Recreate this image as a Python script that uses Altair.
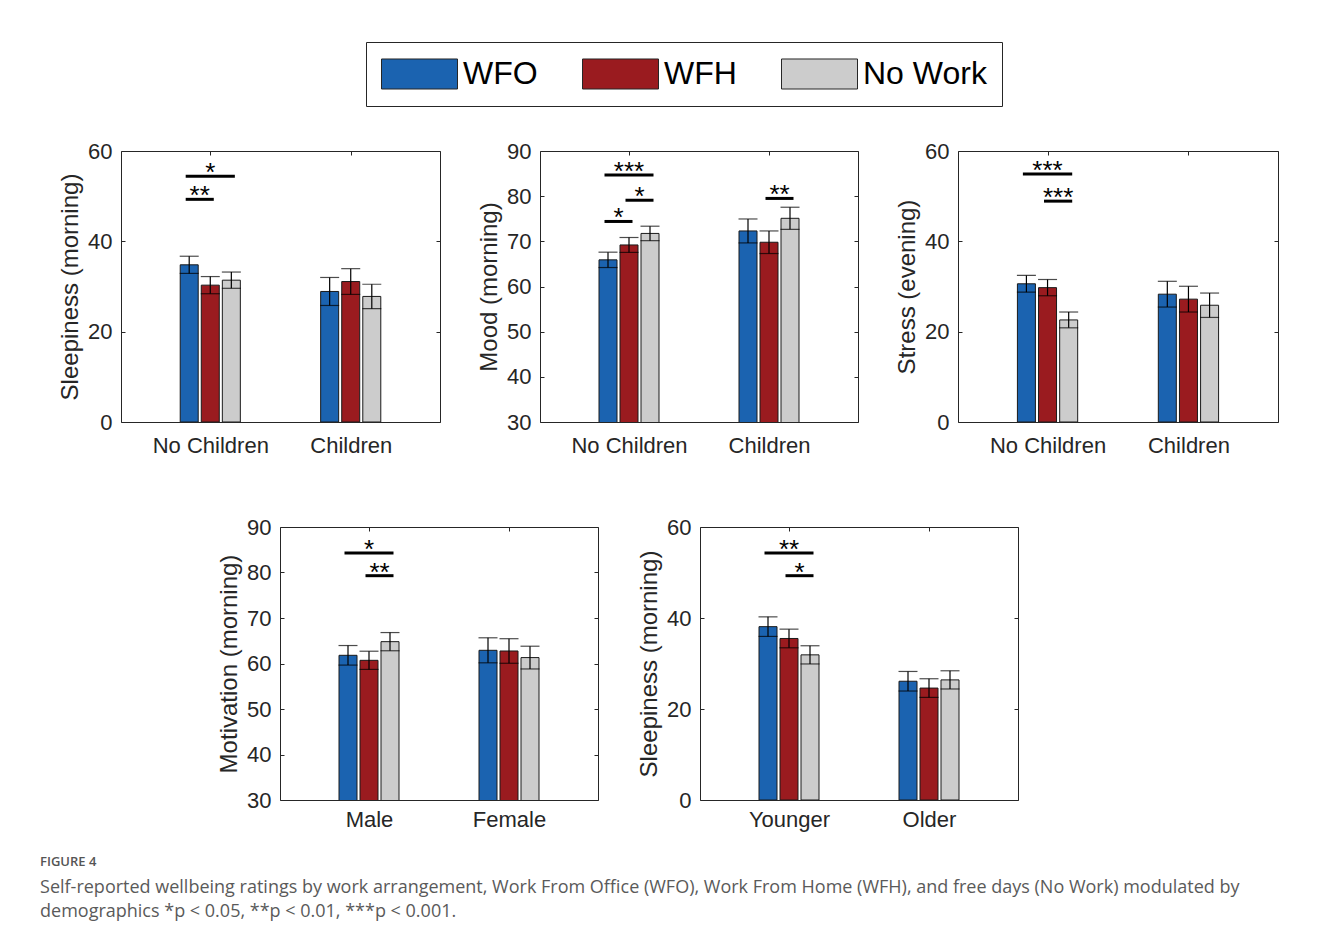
import altair as alt
import pandas as pd

FONT = "Liberation Sans"
CAP_FONT = "Open Sans"
TXT = "#262626"

SERIES = ["WFO", "WFH", "No Work"]
BAR_COLORS = ["#1b63b0", "#9a1b1f", "#cccccc"]

# ---- Panel 1: Sleepiness (morning) by children
p1_categories = ["No Children", "Children"]
p1_ylabel = "Sleepiness (morning)"
p1_yticks = [0, 20, 40, 60]
p1_wfo = [34.8, 28.9]
p1_wfh = [30.3, 31.1]
p1_nowork = [31.4, 27.8]
p1_wfo_err = [1.9, 3.1]
p1_wfh_err = [1.9, 2.85]
p1_nowork_err = [1.8, 2.7]
p1_sig_group = ["No Children", "No Children"]
p1_sig_from = ["WFO", "WFO"]
p1_sig_to = ["No Work", "WFH"]
p1_sig_level = [54.4, 49.3]
p1_sig_stars = ["*", "**"]

# ---- Panel 2: Mood (morning) by children
p2_categories = ["No Children", "Children"]
p2_ylabel = "Mood (morning)"
p2_yticks = [30, 40, 50, 60, 70, 80, 90]
p2_wfo = [65.9, 72.3]
p2_wfh = [69.2, 69.8]
p2_nowork = [71.75, 75.1]
p2_wfo_err = [1.7, 2.65]
p2_wfh_err = [1.65, 2.5]
p2_nowork_err = [1.6, 2.45]
p2_sig_group = ["No Children", "No Children", "No Children", "Children"]
p2_sig_from = ["WFO", "WFH", "WFO", "WFH"]
p2_sig_to = ["No Work", "No Work", "WFH", "No Work"]
p2_sig_level = [84.7, 79.1, 74.4, 79.5]
p2_sig_stars = ["***", "*", "*", "**"]

# ---- Panel 3: Stress (evening) by children
p3_categories = ["No Children", "Children"]
p3_ylabel = "Stress (evening)"
p3_yticks = [0, 20, 40, 60]
p3_wfo = [30.6, 28.3]
p3_wfh = [29.75, 27.2]
p3_nowork = [22.6, 25.85]
p3_wfo_err = [1.85, 2.85]
p3_wfh_err = [1.8, 2.85]
p3_nowork_err = [1.75, 2.7]
p3_sig_group = ["No Children", "No Children"]
p3_sig_from = ["WFO", "WFH"]
p3_sig_to = ["No Work", "No Work"]
p3_sig_level = [54.9, 48.9]
p3_sig_stars = ["***", "***"]

# ---- Panel 4: Motivation (morning) by gender
p4_categories = ["Male", "Female"]
p4_ylabel = "Motivation (morning)"
p4_yticks = [30, 40, 50, 60, 70, 80, 90]
p4_wfo = [61.8, 62.9]
p4_wfh = [60.7, 62.75]
p4_nowork = [64.8, 61.3]
p4_wfo_err = [2.15, 2.75]
p4_wfh_err = [2.0, 2.7]
p4_nowork_err = [2.0, 2.5]
p4_sig_group = ["Male", "Male"]
p4_sig_from = ["WFO", "WFH"]
p4_sig_to = ["No Work", "No Work"]
p4_sig_level = [84.3, 79.3]
p4_sig_stars = ["*", "**"]

# ---- Panel 5: Sleepiness (morning) by age
p5_categories = ["Younger", "Older"]
p5_ylabel = "Sleepiness (morning)"
p5_yticks = [0, 20, 40, 60]
p5_wfo = [38.1, 26.1]
p5_wfh = [35.5, 24.6]
p5_nowork = [31.9, 26.4]
p5_wfo_err = [2.15, 2.15]
p5_wfh_err = [2.05, 2.05]
p5_nowork_err = [2.0, 2.0]
p5_sig_group = ["Younger", "Younger"]
p5_sig_from = ["WFO", "WFH"]
p5_sig_to = ["No Work", "No Work"]
p5_sig_level = [54.3, 49.3]
p5_sig_stars = ["**", "*"]

CAPTION_TITLE = "FIGURE 4"
CAPTION_LINES = [
    "Self-reported wellbeing ratings by work arrangement, Work From Office (WFO), Work From Home (WFH), and free days (No Work) modulated by",
    "demographics *p < 0.05, **p < 0.01, ***p < 0.001.",
]

OFF = 0.15   # group spacing of bars (x units)
EXT = 0.025  # significance bar overhang

LEGEND = alt.Legend(
    title=None, orient="none", legendX=245, legendY=-109, direction="horizontal",
    symbolType="M-1,-0.395L1,-0.395L1,0.395L-1,0.395Z", symbolSize=5776,
    symbolStrokeColor=TXT, symbolStrokeWidth=1, symbolOpacity=1,
    labelFont=FONT, labelFontSize=32, labelColor="black", labelOffset=5, labelLimit=400,
    columnPadding=44, padding=15, strokeColor=TXT, fillColor="white", clipHeight=34,
)


def make_panel(cats, ylabel, yticks, means, errs, sg, sf, st, sl, ss, w, h, xpad):
    rows = []
    for ci, cat in enumerate(cats):
        for si, s in enumerate(SERIES):
            m = means[si][ci]
            e = errs[si][ci]
            rows.append(dict(cat=cat, series=s, xpos=ci + 1 + (si - 1) * OFF,
                             mean=m, lo=m - e, hi=m + e))
    df = pd.DataFrame(rows)
    srows = []
    for g, f, t, lvl, stars in zip(sg, sf, st, sl, ss):
        ci = cats.index(g) + 1
        x1 = ci + (SERIES.index(f) - 1) * OFF - EXT
        x2 = ci + (SERIES.index(t) - 1) * OFF + EXT
        srows.append(dict(x1=x1, x2=x2, xm=(x1 + x2) / 2, level=lvl, stars=stars))
    sdf = pd.DataFrame(srows)

    xs = alt.Scale(domain=[0.4, 2.6], nice=False, zero=False)
    ys = alt.Scale(domain=[yticks[0], yticks[-1]], nice=False, zero=False)
    label_expr = "[" + ",".join("'%s'" % c for c in cats) + "][round(datum.value) - 1]"

    bars = alt.Chart(df).mark_bar(size=18, stroke="#1a1a1a", strokeWidth=1,
                                  orient="vertical", clip=True).encode(
        x=alt.X("xpos:Q", scale=xs, axis=alt.Axis(
            values=[1, 2], labelExpr=label_expr, title=None, grid=False, domain=False,
            ticks=False, labelPadding=xpad, labelFont=FONT, labelFontSize=22,
            labelColor=TXT, labelFlush=False, labelOverlap=False)),
        y=alt.Y("mean:Q", scale=ys, axis=alt.Axis(
            values=yticks, title=ylabel, grid=False, domain=False, ticks=True,
            tickSize=4, offset=-4, tickColor=TXT, tickWidth=1, labelPadding=9,
            labelFont=FONT, labelFontSize=22, labelColor=TXT, labelOverlap=False,
            titleFont=FONT, titleFontSize=24, titleFontWeight="normal",
            titleColor=TXT, titlePadding=5)),
        color=alt.Color("series:N", scale=alt.Scale(domain=SERIES, range=BAR_COLORS),
                        legend=LEGEND),
    )
    err = alt.Chart(df).mark_rule(color="black", strokeWidth=1.2).encode(
        x=alt.X("xpos:Q", scale=xs, axis=alt.Axis(
            orient="top", values=[1, 2], labels=False, domain=False, ticks=True,
            tickSize=4, offset=-4, tickColor=TXT, title=None, grid=False)),
        y=alt.Y("lo:Q", scale=ys, axis=alt.Axis(
            orient="right", values=yticks, labels=False, domain=False, ticks=True,
            tickSize=4, offset=-4, tickColor=TXT, title=None, grid=False)),
        y2="hi:Q",
    )
    cap_lo = alt.Chart(df).mark_tick(orient="horizontal", size=19, thickness=1.2,
                                     color="black").encode(
        x=alt.X("xpos:Q", scale=xs, axis=None),
        y=alt.Y("lo:Q", scale=ys, axis=None),
    )
    cap_hi = alt.Chart(df).mark_tick(orient="horizontal", size=19, thickness=1.2,
                                     color="black").encode(
        x=alt.X("xpos:Q", scale=xs, axis=None),
        y=alt.Y("hi:Q", scale=ys, axis=None),
    )
    sig_line = alt.Chart(sdf).mark_rule(color="black", strokeWidth=3).encode(
        x=alt.X("x1:Q", scale=xs, axis=None),
        x2="x2:Q",
        y=alt.Y("level:Q", scale=ys, axis=None),
    )
    sig_text = alt.Chart(sdf).mark_text(font=FONT, fontSize=26, color="black",
                                        baseline="alphabetic", dy=5).encode(
        x=alt.X("xm:Q", scale=xs, axis=None),
        y=alt.Y("level:Q", scale=ys, axis=None),
        text="stars:N",
    )
    return alt.layer(bars, err, cap_lo, cap_hi, sig_line, sig_text).resolve_axis(
        x="independent", y="independent").properties(width=w, height=h)


p1 = make_panel(p1_categories, p1_ylabel, p1_yticks, [p1_wfo, p1_wfh, p1_nowork],
                [p1_wfo_err, p1_wfh_err, p1_nowork_err], p1_sig_group, p1_sig_from,
                p1_sig_to, p1_sig_level, p1_sig_stars, 319, 271, 13)
p2 = make_panel(p2_categories, p2_ylabel, p2_yticks, [p2_wfo, p2_wfh, p2_nowork],
                [p2_wfo_err, p2_wfh_err, p2_nowork_err], p2_sig_group, p2_sig_from,
                p2_sig_to, p2_sig_level, p2_sig_stars, 318, 271, 13)
p3 = make_panel(p3_categories, p3_ylabel, p3_yticks, [p3_wfo, p3_wfh, p3_nowork],
                [p3_wfo_err, p3_wfh_err, p3_nowork_err], p3_sig_group, p3_sig_from,
                p3_sig_to, p3_sig_level, p3_sig_stars, 320, 271, 13)
p4 = make_panel(p4_categories, p4_ylabel, p4_yticks, [p4_wfo, p4_wfh, p4_nowork],
                [p4_wfo_err, p4_wfh_err, p4_nowork_err], p4_sig_group, p4_sig_from,
                p4_sig_to, p4_sig_level, p4_sig_stars, 318, 273, 9)
p5 = make_panel(p5_categories, p5_ylabel, p5_yticks, [p5_wfo, p5_wfh, p5_nowork],
                [p5_wfo_err, p5_wfh_err, p5_nowork_err], p5_sig_group, p5_sig_from,
                p5_sig_to, p5_sig_level, p5_sig_stars, 318, 273, 9)

spacer = alt.Chart(pd.DataFrame({"v": [0]})).mark_point(size=1, opacity=0).encode(
    x=alt.value(0), y=alt.value(0)
).properties(width=58, height=10,
             view=alt.ViewBackground(stroke="transparent", strokeOpacity=0))

row1 = alt.hconcat(p1, p2, p3, spacing=36)
row2 = alt.hconcat(spacer, p4, p5, spacing=38)

chart = alt.vconcat(row1, row2, spacing=58).properties(
    title=alt.Title(
        CAPTION_TITLE, subtitle=CAPTION_LINES, orient="bottom", anchor="start",
        frame="bounds", offset=25, dx=-18, font=CAP_FONT, fontSize=13, fontWeight=600,
        color="#555555", subtitleFont=CAP_FONT, subtitleFontSize=18,
        subtitleColor="#5a5a5a", subtitlePadding=10, subtitleLineHeight=24,
    ),
    padding={"left": 32, "top": 33, "right": 12, "bottom": 20},
    background="white",
).configure_view(stroke=TXT, strokeWidth=1)

chart.save("out.html", embed_options={"renderer": "svg", "actions": False})
